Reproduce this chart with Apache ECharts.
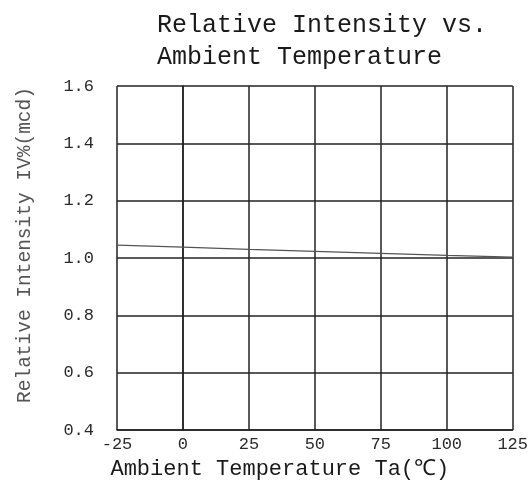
<!DOCTYPE html>
<html lang="en">
<head>
    <meta charset="UTF-8">
    <title>Relative Intensity vs. Ambient Temperature</title>
    <script src="https://cdn.jsdelivr.net/npm/echarts@6/dist/echarts.min.js"></script>
    <style>
        html, body { margin: 0; padding: 0; background: #fff; }
        #main { width: 531px; height: 486px; }
    </style>
</head>
<body>
    <div id="main"></div>
    <script>
        // 读图得到的数据
        var temperatures = [-25, 0, 25, 50, 75, 100, 125];
        var intensity = [1.045, 1.038, 1.030, 1.023, 1.016, 1.009, 1.003];
        var xTicks = [-25, 0, 25, 50, 75, 100, 125];
        var yTicks = [0.4, 0.6, 0.8, 1.0, 1.2, 1.4, 1.6];

        var font = '"Liberation Mono", "DejaVu Sans Mono", monospace';

        var points = temperatures.map(function (t, i) {
            return [t, intensity[i]];
        });

        var option = {
            backgroundColor: '#fff',
            animation: false,
            title: {
                text: 'Relative Intensity vs.\nAmbient Temperature',
                left: 152,
                top: 4,
                textStyle: {
                    fontFamily: font,
                    fontSize: 25,
                    fontWeight: 'normal',
                    lineHeight: 32,
                    color: '#1a1a1a'
                }
            },
            grid: {
                left: 117,
                right: 18,
                top: 86,
                bottom: 56
            },
            xAxis: {
                type: 'value',
                min: xTicks[0],
                max: xTicks[xTicks.length - 1],
                interval: 25,
                name: 'Ambient Temperature Ta(℃)',
                nameLocation: 'middle',
                nameGap: 27,
                nameTextStyle: {
                    fontFamily: font,
                    fontSize: 22,
                    color: '#1a1a1a',
                    padding: [0, 70, 0, 0]
                },
                axisLine: { lineStyle: { color: '#222', width: 1.5 } },
                axisTick: { show: false },
                axisLabel: {
                    fontFamily: font,
                    fontSize: 17,
                    color: '#2a2a2a',
                    margin: 6
                },
                splitLine: { show: true, lineStyle: { color: '#222', width: 1.5 } }
            },
            yAxis: {
                type: 'value',
                min: yTicks[0],
                max: yTicks[yTicks.length - 1],
                interval: 0.2,
                name: 'Relative Intensity IV%(mcd)',
                nameLocation: 'middle',
                nameGap: 82,
                nameTextStyle: {
                    fontFamily: font,
                    fontSize: 19.5,
                    color: '#555',
                    padding: [0, 0, 0, 26]
                },
                axisLine: { show: true, lineStyle: { color: '#222', width: 1.5 } },
                axisTick: { show: false },
                axisLabel: {
                    fontFamily: font,
                    fontSize: 17,
                    color: '#2a2a2a',
                    margin: 23,
                    formatter: function (v) { return v.toFixed(1); }
                },
                splitLine: { show: true, lineStyle: { color: '#222', width: 1.5 } }
            },
            series: [{
                type: 'line',
                data: points,
                showSymbol: false,
                symbol: 'none',
                lineStyle: { color: '#555', width: 1.2 }
            }]
        };

        var myChart = echarts.init(document.getElementById('main'));
        myChart.setOption(option);
    </script>
</body>
</html>
